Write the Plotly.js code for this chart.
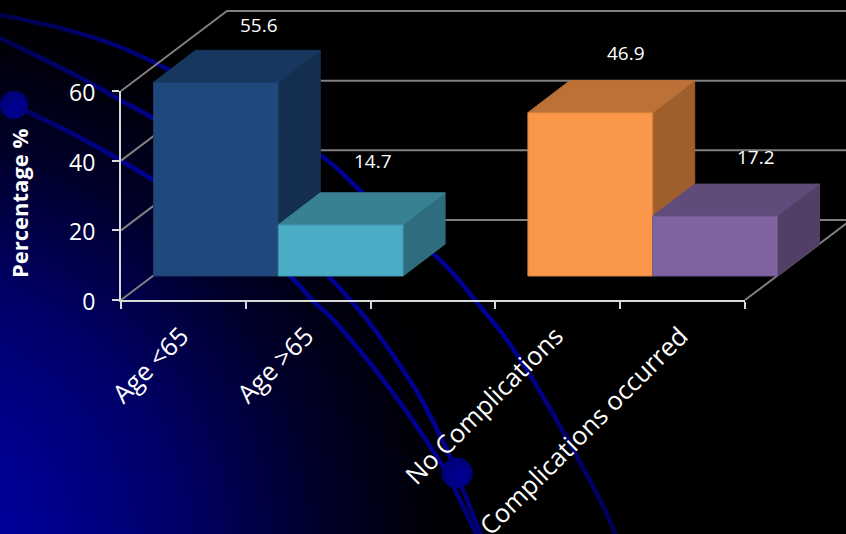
<!DOCTYPE html>
<html>
<head>
<meta charset="utf-8">
<script src="https://cdn.plot.ly/plotly-3.0.0.min.js"></script>
<style>
  html, body { margin: 0; padding: 0; background: #000; overflow: hidden; }
  #stage { position: relative; width: 846px; height: 534px; }
  #backdrop, #chart { position: absolute; left: 0; top: 0; width: 846px; height: 534px; }
</style>
</head>
<body>
<div id="stage">
  <svg id="backdrop" width="846" height="534" xmlns="http://www.w3.org/2000/svg">
    <defs>
      <radialGradient id="glow" gradientUnits="userSpaceOnUse" cx="-100" cy="560" r="580">
        <stop offset="0" stop-color="#0000a0"/>
        <stop offset="0.2" stop-color="#000098"/>
        <stop offset="0.48" stop-color="#00006a"/>
        <stop offset="0.72" stop-color="#00002c"/>
        <stop offset="0.92" stop-color="#000006"/>
        <stop offset="1" stop-color="#000000"/>
      </radialGradient>
      <linearGradient id="arcInk" gradientUnits="userSpaceOnUse" x1="0" y1="0" x2="620" y2="534">
        <stop offset="0" stop-color="#000048"/>
        <stop offset="0.25" stop-color="#000092"/>
        <stop offset="0.75" stop-color="#000092"/>
        <stop offset="1" stop-color="#000058"/>
      </linearGradient>
      <radialGradient id="ball" cx="0.55" cy="0.6" r="0.6">
        <stop offset="0" stop-color="#000098"/>
        <stop offset="1" stop-color="#000074"/>
      </radialGradient>
    </defs>
    <rect width="846" height="534" fill="#000"/>
    <rect width="846" height="534" fill="url(#glow)"/>
    <g id="arcs" fill="none" stroke="url(#arcInk)" stroke-width="4.5" stroke-linecap="round"></g>
    <circle cx="14" cy="105" r="14" fill="url(#ball)"/>
    <circle cx="457" cy="473" r="15.5" fill="url(#ball)"/>
  </svg>
  <div id="chart"></div>
</div>
<script>
// Outcome percentages by patient group; the blank slot separates the two groupings.
const categories = ['Age <65', 'Age >65', ' ', 'No Complications', 'Complications occurred'];
const barCategories = ['Age <65', 'Age >65', 'No Complications', 'Complications occurred'];
const barSlots = [0, 1, 3, 4];
const percentages = [55.6, 14.7, 46.9, 17.2];
const frontColors = ['#1f497d', '#4bacc6', '#fb9748', '#8064a2'];
const yTicks = [0, 20, 40, 60];
const yRange = [0, 60];
const xRange = [-0.5, 4.5];

// Axis box in page pixels, and the oblique projection used for depth.
const PAGE = { w: 846, h: 534 };
const box = { left: 121, right: 745, top: 91, bottom: 300 };
const unitX = (box.right - box.left) / (xRange[1] - xRange[0]);
const unitY = (box.bottom - box.top) / (yRange[1] - yRange[0]);
const wallShift = { x: 106 / unitX, y: 80 / unitY };
const barInset = { x: 32.5 / unitX, y: 24 / unitY };
const barDepth = { x: 42 / unitX, y: 32 / unitY };
const labelNudge = [[1.5, 25], [-10, 32], [-6, 28], [-1, 27]];

function shade(hex, f) {
  const n = parseInt(hex.slice(1), 16);
  const c = [n >> 16, (n >> 8) & 255, n & 255].map(v => Math.round(v * f));
  return `rgb(${c[0]},${c[1]},${c[2]})`;
}

// Background sweeps behind the chart.
const sweeps = [
  [[-4,14],[60,28],[115,45],[165,68],[240,110],[320,155],[365,195],[440,260],[475,300],[507,340],[530,375],[565,435],[600,500],[618,540]],
  [[-4,36],[75,75],[120,100],[170,130],[250,200],[328,276],[350,300],[375,330],[417,392],[447,450],[463,490],[483,540]],
  [[14,105],[75,135],[120,160],[170,190],[230,225],[290,276],[312,300],[340,327],[393,393],[437,457],[455,490],[479,540]]
];
function smoothPath(p) {
  let d = `M${p[0][0]},${p[0][1]}`;
  for (let i = 0; i < p.length - 1; i++) {
    const a = p[Math.max(i - 1, 0)], b = p[i], c = p[i + 1], e = p[Math.min(i + 2, p.length - 1)];
    d += `C${b[0] + (c[0] - a[0]) / 6},${b[1] + (c[1] - a[1]) / 6} ${c[0] - (e[0] - b[0]) / 6},${c[1] - (e[1] - b[1]) / 6} ${c[0]},${c[1]}`;
  }
  return d;
}
const arcGroup = document.getElementById('arcs');
sweeps.forEach(p => {
  const el = document.createElementNS('http://www.w3.org/2000/svg', 'path');
  el.setAttribute('d', smoothPath(p));
  arcGroup.appendChild(el);
});

// Grey gridlines on the left wall, back wall and floor.
const wallX = [], wallY = [];
yTicks.forEach(t => {
  wallX.push(xRange[0], xRange[0] + wallShift.x, xRange[1] + wallShift.x, null);
  wallY.push(t, t + wallShift.y, t + wallShift.y, null);
});
wallX.push(xRange[1], xRange[1] + wallShift.x);
wallY.push(0, wallShift.y);

const traces = [{
  type: 'scatter', mode: 'lines', x: wallX, y: wallY, xaxis: 'x', yaxis: 'y',
  line: { color: '#7f7f7f', width: 2 }, hoverinfo: 'skip', showlegend: false
}];

// Top and side faces of each box, projected from its value.
function face(xs, ys, color) {
  return {
    type: 'scatter', mode: 'lines', x: xs, y: ys, xaxis: 'x', yaxis: 'y',
    fill: 'toself', fillcolor: color, line: { color: color, width: 1 },
    hoverinfo: 'skip', showlegend: false
  };
}
percentages.forEach((v, i) => {
  const x0 = barSlots[i] - 0.5 + barInset.x, x1 = x0 + 1;
  const y0 = barInset.y, y1 = barInset.y + v;
  traces.push(face(
    [x1, x1 + barDepth.x, x1 + barDepth.x, x1, x1],
    [y0, y0 + barDepth.y, y1 + barDepth.y, y1, y0],
    shade(frontColors[i], 0.63)));
  traces.push(face(
    [x0, x0 + barDepth.x, x1 + barDepth.x, x1, x0],
    [y1, y1 + barDepth.y, y1 + barDepth.y, y1, y1],
    shade(frontColors[i], 0.75)));
});

// Front faces as a real bar trace, lifted off the floor by the inset,
// on overlay axes so they stack above the walls and depth faces.
traces.push({
  type: 'bar', x: barSlots.map(s => s + barInset.x), y: percentages, xaxis: 'x3', yaxis: 'y3',
  base: percentages.map(() => barInset.y), width: 1, customdata: barCategories,
  marker: { color: frontColors, line: { color: frontColors.map(c => shade(c, 0.85)), width: 1 } },
  hoverinfo: 'skip', showlegend: false
});

// Empty trace that keeps the visible category and value axes in the figure.
traces.push({
  type: 'scatter', mode: 'none', x: categories, y: categories.map(() => 0),
  xaxis: 'x2', yaxis: 'y2', hoverinfo: 'skip', showlegend: false
});

const valueLabels = percentages.map((v, i) => ({
  xref: 'x', yref: 'y',
  x: barSlots[i] - 0.5 + barInset.x + barDepth.x + 0.5,
  y: v + barInset.y + barDepth.y,
  xshift: labelNudge[i][0], yshift: labelNudge[i][1],
  text: v.toFixed(1), showarrow: false,
  font: { family: '"Open Sans", sans-serif', size: 19, color: '#ffffff' }
}));

// Full-page data axes share the visible axes' scale so depth faces can leave the axis box.
const pageX = [xRange[0] - box.left / unitX, xRange[0] + (PAGE.w - box.left) / unitX];
const pageY = [(box.bottom - PAGE.h) / unitY, box.bottom / unitY];

const layout = {
  width: PAGE.w, height: PAGE.h,
  margin: { l: 0, r: 0, t: 0, b: 0, pad: 0 },
  paper_bgcolor: 'rgba(0,0,0,0)', plot_bgcolor: 'rgba(0,0,0,0)',
  showlegend: false, bargap: 0,
  font: { family: '"Open Sans", sans-serif', color: '#ffffff' },
  xaxis: { type: 'linear', visible: false, fixedrange: true, domain: [0, 1], range: pageX },
  yaxis: { type: 'linear', visible: false, fixedrange: true, domain: [0, 1], range: pageY },
  xaxis3: { type: 'linear', visible: false, fixedrange: true, overlaying: 'x', range: pageX, anchor: 'y3' },
  yaxis3: { type: 'linear', visible: false, fixedrange: true, overlaying: 'y', range: pageY, anchor: 'x3' },
  xaxis2: {
    type: 'category', anchor: 'y2', side: 'bottom',
    domain: [box.left / PAGE.w, box.right / PAGE.w],
    categoryorder: 'array', categoryarray: categories, tickmode: 'array',
    tickvals: categories, ticktext: categories, range: xRange,
    tickson: 'boundaries', ticks: 'outside', ticklen: 7, tickwidth: 2, tickcolor: '#d9d9d9',
    showline: true, linecolor: '#d9d9d9', linewidth: 2, showgrid: false, zeroline: false,
    tickangle: -45, tickfont: { family: '"Open Sans", sans-serif', size: 25.5, color: '#ffffff' },
    ticklabelstandoff: 9, ticklabelshift: -2, fixedrange: true
  },
  yaxis2: {
    anchor: 'x2', side: 'left',
    domain: [(PAGE.h - box.bottom) / PAGE.h, (PAGE.h - box.top) / PAGE.h],
    range: yRange, tickvals: yTicks, ticks: 'outside', ticklen: 7, tickwidth: 2, tickcolor: '#d9d9d9',
    showline: true, linecolor: '#d9d9d9', linewidth: 2, showgrid: false, zeroline: false,
    tickfont: { family: '"Open Sans", sans-serif', size: 23, color: '#ffffff' },
    ticklabelstandoff: 12, ticklabelshift: 2, fixedrange: true
  },
  annotations: valueLabels.concat([{
    xref: 'paper', yref: 'paper', xanchor: 'center', yanchor: 'middle',
    x: 19 / PAGE.w, y: (PAGE.h - 203) / PAGE.h,
    text: '<b>Percentage %</b>', textangle: -90, showarrow: false,
    font: { family: '"Open Sans", sans-serif', size: 22, color: '#ffffff' }
  }])
};

Plotly.newPlot('chart', traces, layout, { displayModeBar: false, staticPlot: true });
</script>
</body>
</html>
